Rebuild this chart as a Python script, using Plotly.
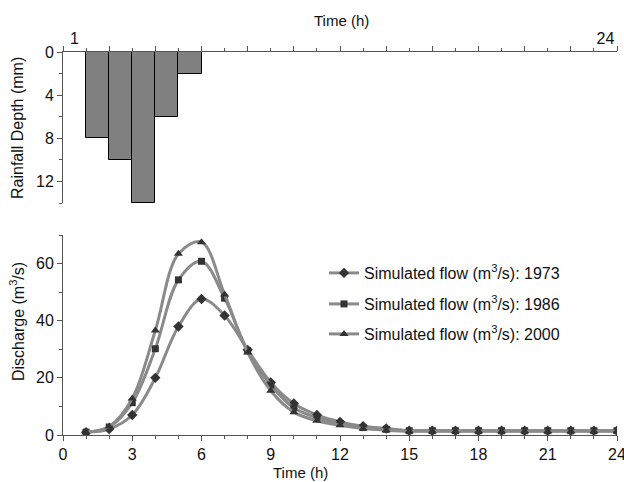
import plotly.graph_objects as go

hours = list(range(1, 25))
rainfall = [0, 8, 10, 14, 6, 2] + [0] * 18

flow_1973 = [1.0, 2.1, 7.0, 20.0, 38.0, 47.6, 41.8, 29.8, 18.4, 11.0, 7.0, 4.6, 3.1, 2.3] + [1.5] * 10
flow_1986 = [1.0, 2.8, 11.3, 30.2, 54.3, 60.8, 47.9, 29.5, 17.5, 9.5, 6.0, 4.0, 2.6, 2.0] + [1.5] * 10
flow_2000 = [1.0, 3.0, 12.8, 36.6, 63.4, 67.5, 49.2, 28.9, 15.5, 8.0, 5.0, 3.4, 2.3, 1.7] + [1.3] * 10

series = [
    ("Simulated flow (m<sup>3</sup>/s): 1973", flow_1973, "diamond", 8, "legend"),
    ("Simulated flow (m<sup>3</sup>/s): 1986", flow_1986, "square", 7, "legend2"),
    ("Simulated flow (m<sup>3</sup>/s): 2000", flow_2000, "triangle-up", 8, "legend3"),
]

top_tick_vals = [0.5, 23.5]
top_tick_text = ["1", "24"]

FONT = "Arial, Liberation Sans, sans-serif"
FS = 16
LINE_C = "#8a8a8a"
MARK_C = "#333333"
AX_C = "#555555"

fig = go.Figure()

fig.add_trace(go.Bar(
    x=[h - 0.5 for h in hours], y=rainfall, width=1,
    marker=dict(color="#808080", line=dict(color="#000000", width=1)),
    xaxis="x2", yaxis="y2", showlegend=False,
))
fig.add_trace(go.Scatter(x=[0, 24], y=[0, 0], mode="none", xaxis="x3", yaxis="y2",
                         showlegend=False, hoverinfo="skip"))

for name, vals, sym, sz, leg in series:
    fig.add_trace(go.Scatter(
        x=hours, y=vals, name=name, mode="lines+markers",
        line=dict(color=LINE_C, width=3, shape="spline", smoothing=1),
        marker=dict(symbol=sym, size=sz, color=MARK_C),
        xaxis="x", yaxis="y", legend=leg,
    ))

axis_common = dict(showline=True, linecolor=AX_C, linewidth=1, showgrid=False, zeroline=False,
                   automargin=False, tickcolor=AX_C, ticklabeloverflow="allow",
                   tickfont=dict(family=FONT, size=FS, color="#111111"))

H_PLOT = 482 - 52 - 47


def py(px):
    return (435 - px) / H_PLOT


legend_common = dict(xanchor="left", yanchor="middle", bgcolor="rgba(0,0,0,0)",
                     font=dict(family=FONT, size=FS), borderwidth=0)

LX = (324 - 63) / 554

fig.update_layout(
    width=624, height=482,
    margin=dict(l=63, r=7, t=52, b=47, autoexpand=False),
    paper_bgcolor="white", plot_bgcolor="white",
    font=dict(family=FONT, size=FS, color="#111111"),
    bargap=0,
    xaxis=dict(domain=[0, 1], range=[0, 24], anchor="y", tickmode="linear", tick0=0, dtick=3,
               ticks="outside", ticklen=5, minor=dict(dtick=1, tick0=0, ticks="outside", ticklen=3, tickcolor=AX_C),
               **axis_common),
    yaxis=dict(domain=[0, py(235)], range=[0, 70], anchor="x", tickmode="linear", tick0=0, dtick=20,
               ticks="outside", ticklen=5, minor=dict(dtick=10, tick0=0, ticks="outside", ticklen=3, tickcolor=AX_C),
               **axis_common),
    xaxis2=dict(domain=[0, 1], range=[0, 24], anchor="y2", side="top", tickmode="linear", tick0=0, dtick=2,
                ticks="outside", ticklen=5, showticklabels=False,
                minor=dict(dtick=1, tick0=0, ticks="outside", ticklen=3, tickcolor=AX_C),
                **axis_common),
    xaxis3=dict(range=[0, 24], anchor="y2", overlaying="x2", side="top", tickmode="array",
                tickvals=top_tick_vals, ticktext=top_tick_text, ticks="", showline=False,
                showgrid=False, zeroline=False, automargin=False, ticklabelstandoff=4,
                ticklabeloverflow="allow",
                tickfont=dict(family=FONT, size=FS, color="#111111")),
    yaxis2=dict(domain=[py(203), 1], range=[14, 0], anchor="x2", tickmode="array", tickvals=[0, 4, 8, 12],
                ticks="outside", ticklen=5,
                minor=dict(tickmode="array", tickvals=[2, 6, 10, 14], ticks="outside", ticklen=3, tickcolor=AX_C),
                **axis_common),
    legend=dict(x=LX, y=py(273), **legend_common),
    legend2=dict(x=LX, y=py(304), **legend_common),
    legend3=dict(x=LX, y=py(334), **legend_common),
    annotations=[
        dict(text="Time (h)", x=(300 - 63) / 554, y=py(472), xref="paper", yref="paper", showarrow=False,
             xanchor="center", yanchor="middle", font=dict(family=FONT, size=15)),
        dict(text="Time (h)", x=(341 - 63) / 554, y=py(21), xref="paper", yref="paper", showarrow=False,
             xanchor="center", yanchor="middle", font=dict(family=FONT, size=15)),
        dict(text="Discharge (m<sup>3</sup>/s)", x=(17 - 63) / 554, y=py(322), xref="paper", yref="paper",
             showarrow=False, textangle=-90, xanchor="center", yanchor="middle", font=dict(family=FONT, size=16)),
        dict(text="Rainfall Depth (mm)", x=(17 - 63) / 554, y=py(128), xref="paper", yref="paper",
             showarrow=False, textangle=-90, xanchor="center", yanchor="middle", font=dict(family=FONT, size=16)),
    ],
)

fig.write_html("out.html", config={"displayModeBar": False},
               post_script="document.body.style.margin='0';document.body.style.overflow='hidden';")
